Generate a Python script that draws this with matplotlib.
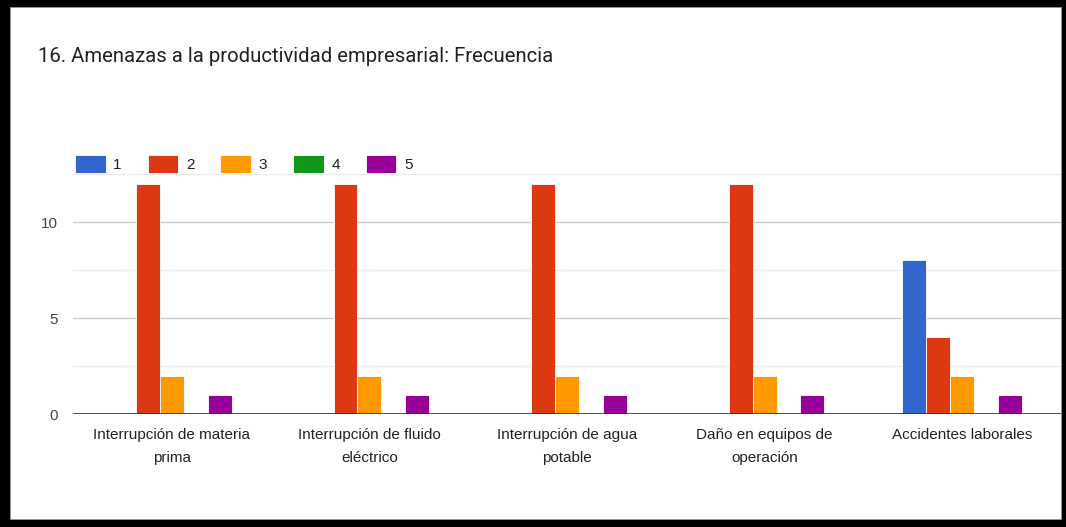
import numpy as np
import matplotlib.pyplot as plt
from matplotlib.patches import Rectangle

# data
categorias = ["Interrupción de materia\nprima", "Interrupción de fluido\neléctrico",
              "Interrupción de agua\npotable", "Daño en equipos de\noperación",
              "Accidentes laborales"]
serie_1 = [0, 0, 0, 0, 8]
serie_2 = [12, 12, 12, 12, 4]
serie_3 = [2, 2, 2, 2, 2]
serie_4 = [0, 0, 0, 0, 0]
serie_5 = [1, 1, 1, 1, 1]
nombres = ["1", "2", "3", "4", "5"]
colores = ["#3366cc", "#dc3912", "#ff9900", "#109618", "#990099"]

plt.rcParams['font.family'] = ['Liberation Sans', 'DejaVu Sans']

fig = plt.figure(figsize=(10.66, 5.27), dpi=100)
fig.patch.set_facecolor("black")
# white card inside the black frame
fig.patches.append(Rectangle((10 / 1066, 8 / 527), 1051 / 1066, 512 / 527,
                             transform=fig.transFigure, facecolor="white",
                             edgecolor="#999999", linewidth=0.6, zorder=-5))

ax = fig.add_axes([73 / 1066, 113 / 527, 988 / 1066, 240 / 527])
ax.set_facecolor("white")

x = np.arange(len(categorias))
ancho = 0.121
series = [serie_1, serie_2, serie_3, serie_4, serie_5]
for i, valores in enumerate(series):
    ax.bar(x + (i - 2) * ancho, valores, ancho, color=colores[i],
           edgecolor="white", linewidth=0.6, label=nombres[i], zorder=2)

# grid lines
ax.set_ylim(0, 12.5)
ax.set_xlim(-0.5, len(categorias) - 0.5)
ax.set_yticks([0, 5, 10])
ax.set_yticks([2.5, 7.5, 12.5], minor=True)
ax.grid(axis="y", which="major", color="#cccccc", linewidth=1, zorder=0)
ax.grid(axis="y", which="minor", color="#ebebeb", linewidth=1, zorder=0)
ax.axhline(0, color="#333333", linewidth=1.2, zorder=3)
for s in ax.spines.values():
    s.set_visible(False)
ax.tick_params(axis="y", which="both", length=0, pad=11, labelsize=11, labelcolor="#444444")
ax.tick_params(axis="x", length=0, pad=10, labelsize=11, labelcolor="#222222")
ax.set_xticks(x)
ax.set_xticklabels(categorias, linespacing=1.8)

# legend on top
fig.legend(loc="center left", bbox_to_anchor=(75 / 1066, 1 - 164 / 527), ncol=5,
           frameon=False, fontsize=11, handlelength=2.0, handleheight=1.4,
           handletextpad=0.5, columnspacing=1.7, borderpad=0, borderaxespad=0,
           labelcolor="#222222")

fig.text(38 / 1066, 1 - 57 / 527, "16. Amenazas a la productividad empresarial: Frecuencia",
         fontsize=14.6, color="#212121", va="center", ha="left", family="Roboto")

plt.savefig("out.png", dpi=100, facecolor=fig.get_facecolor())
